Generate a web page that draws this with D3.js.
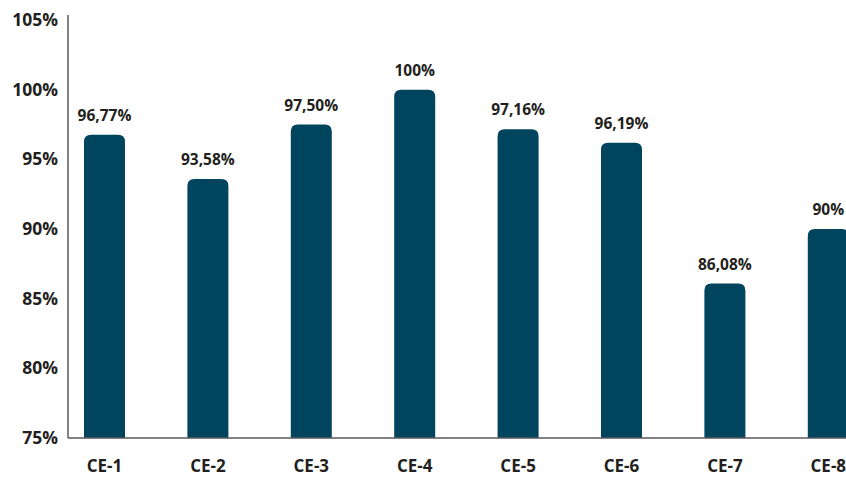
<!DOCTYPE html>
<html><head><meta charset="utf-8">
<script src="https://cdn.jsdelivr.net/npm/d3@7"></script>
<style>body{margin:0;background:#fff}svg{display:block}text{font-family:"Open Sans",sans-serif;font-weight:700;fill:#231f20}</style>
</head><body><svg id="c" width="846" height="477"></svg>
<script>
const categories = ["CE-1","CE-2","CE-3","CE-4","CE-5","CE-6","CE-7","CE-8"];
const values = [96.77, 93.58, 97.50, 100, 97.16, 96.19, 86.08, 90];
const valueLabels = ["96,77%","93,58%","97,50%","100%","97,16%","96,19%","86,08%","90%"];
const yTicks = [75, 80, 85, 90, 95, 100, 105];

const svg = d3.select("#c");
const x0 = 68, yBottom = 438, yTop = 20;
const y = d3.scaleLinear().domain([75, 105]).range([yBottom, yTop]);
const step = 103.4;
const x = d3.scaleBand().domain(categories)
  .range([x0, x0 + step * (8 - 0.6035 + 2 * 0.1547)])
  .paddingInner(0.6035).paddingOuter(0.1547);

const r = 7;
function barPath(d, i) {
  const bx = x(categories[i]), w = x.bandwidth(), t = y(d), b = yBottom;
  return `M${bx},${b}V${t + r}Q${bx},${t} ${bx + r},${t}H${bx + w - r}Q${bx + w},${t} ${bx + w},${t + r}V${b}Z`;
}
svg.append("g").selectAll("path").data(values).join("path")
  .attr("d", barPath).attr("fill", "#00445e");

// axes
const yAxis = d3.axisLeft(y).tickValues(yTicks).tickSize(0).tickPadding(10).tickFormat(d => d + "%");
const gy = svg.append("g").attr("transform", `translate(${x0},0)`).call(yAxis);
gy.select(".domain").remove();
gy.selectAll("text").attr("font-size", 17.5).attr("font-family", "Open Sans").attr("font-weight", 700).attr("fill", "#231f20");

const xAxis = d3.axisBottom(x).tickSize(0).tickPadding(22);
const gx = svg.append("g").attr("transform", `translate(0,${yBottom})`).call(xAxis);
gx.select(".domain").remove();
gx.selectAll("text").attr("font-size", 17).attr("font-family", "Open Sans").attr("font-weight", 700).attr("fill", "#231f20");

svg.append("line").attr("x1", x0).attr("x2", x0).attr("y1", 15).attr("y2", yBottom)
  .attr("stroke", "#58595b").attr("stroke-width", 1.5);
svg.append("line").attr("x1", x0).attr("x2", 846).attr("y1", yBottom).attr("y2", yBottom)
  .attr("stroke", "#58595b").attr("stroke-width", 1.5);

svg.append("g").selectAll("text").data(values).join("text")
  .attr("x", (d, i) => x(categories[i]) + x.bandwidth() / 2)
  .attr("y", d => y(d) - 14)
  .attr("text-anchor", "middle").attr("font-size", 15.5)
  .text((d, i) => valueLabels[i]);
</script></body></html>
